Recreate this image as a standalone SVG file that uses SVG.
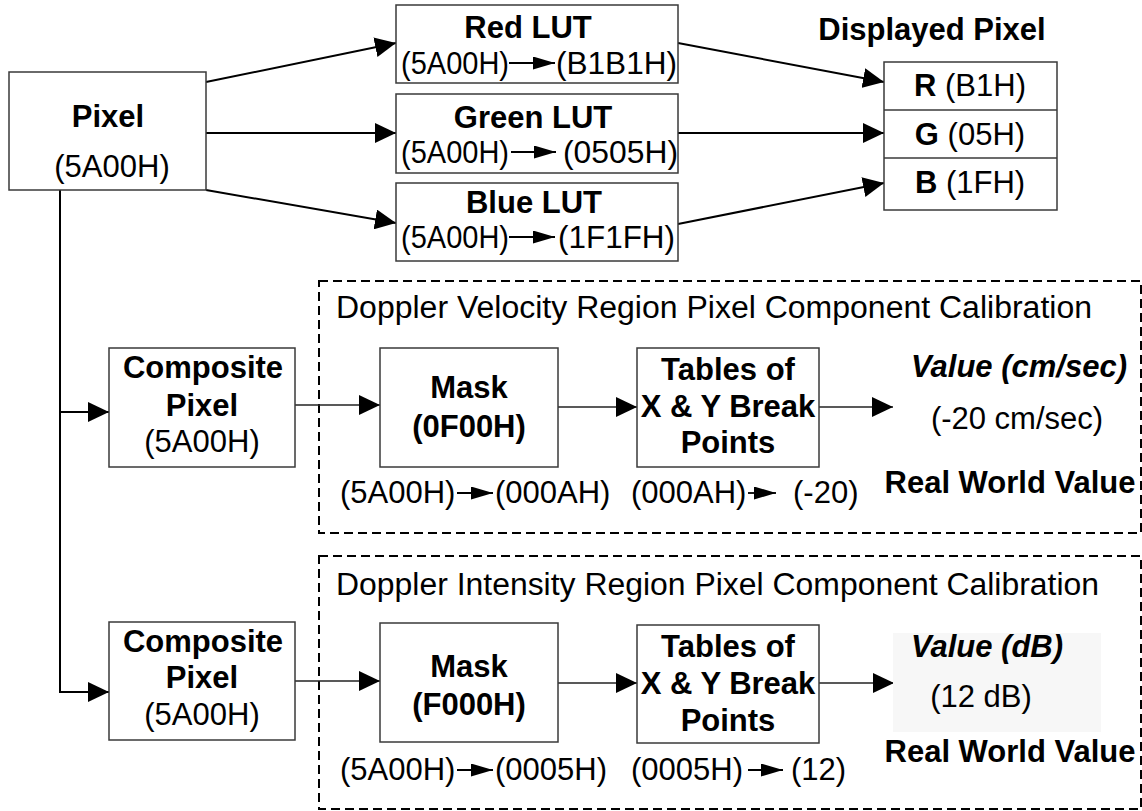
<svg xmlns="http://www.w3.org/2000/svg" width="1142" height="811" viewBox="0 0 1142 811">
<defs>
<style>
text{font-family:"Liberation Sans",Arial,sans-serif;font-size:31px;fill:#000}
.b{font-weight:bold}
.bi{font-weight:bold;font-style:italic}
.m{text-anchor:middle}
.box{fill:#fff;stroke:#3a3a3a;stroke-width:1.5}
.dash{fill:none;stroke:#000;stroke-width:2;stroke-dasharray:9 5}
.c{fill:none;stroke:#000;stroke-width:2}
.ct{fill:none;stroke:#222;stroke-width:1.4}
.ia{fill:none;stroke:#000;stroke-width:1.8}
</style>
<marker id="ah" markerUnits="userSpaceOnUse" markerWidth="21" markerHeight="20" refX="21" refY="10" orient="auto" viewBox="0 0 21 20"><path d="M0,0 L21,10 L0,20 z" fill="#000"/></marker>
<marker id="sa" markerUnits="userSpaceOnUse" markerWidth="22" markerHeight="13" refX="22" refY="6.5" orient="auto" viewBox="0 0 22 13"><path d="M0,0 L22,6.5 L0,13 z" fill="#000"/></marker>
</defs>

<g id="region-velocity">
<rect class="dash" x="319" y="281" width="822" height="252"/>
<text x="336" y="318" textLength="756" lengthAdjust="spacingAndGlyphs">Doppler Velocity Region Pixel Component Calibration</text>
</g>
<g id="region-intensity">
<rect class="dash" x="319" y="556" width="822" height="253"/>
<text x="336" y="595" textLength="763" lengthAdjust="spacingAndGlyphs">Doppler Intensity Region Pixel Component Calibration</text>
</g>

<g id="connectors">
<line class="c" x1="206" y1="82" x2="396" y2="43" marker-end="url(#ah)"/>
<line class="c" x1="206" y1="133" x2="396" y2="133" marker-end="url(#ah)"/>
<line class="c" x1="206" y1="190" x2="396" y2="223" marker-end="url(#ah)"/>
<line class="c" x1="678" y1="43" x2="884" y2="82" marker-end="url(#ah)"/>
<line class="c" x1="678" y1="133" x2="884" y2="133" marker-end="url(#ah)"/>
<line class="c" x1="678" y1="224" x2="884" y2="183" marker-end="url(#ah)"/>
<polyline class="c" points="60,190 60,692 109,692" marker-end="url(#ah)"/>
<line class="c" x1="60" y1="412" x2="109" y2="412" marker-end="url(#ah)"/>
<line class="ct" x1="295" y1="405" x2="380" y2="405" marker-end="url(#ah)"/>
<line class="ct" x1="558" y1="407" x2="637" y2="407" marker-end="url(#ah)"/>
<line class="ct" x1="819" y1="407" x2="893" y2="407" marker-end="url(#ah)"/>
<line class="ct" x1="295" y1="681" x2="380" y2="681" marker-end="url(#ah)"/>
<line class="ct" x1="558" y1="683" x2="637" y2="683" marker-end="url(#ah)"/>
<line class="ct" x1="819" y1="683" x2="894" y2="683" marker-end="url(#ah)"/>
</g>

<g id="pixel">
<rect class="box" x="9" y="72" width="197" height="118"/>
<text class="b m" x="108" y="127">Pixel</text>
<text class="m" x="112" y="177">(5A00H)</text>
</g>

<g id="red-lut">
<rect class="box" x="396" y="5" width="282" height="78"/>
<text class="b m" x="528" y="38">Red LUT</text>
<text x="401" y="74" textLength="108" lengthAdjust="spacingAndGlyphs">(5A00H)</text>
<line class="ia" x1="509" y1="63" x2="555" y2="63" marker-end="url(#sa)"/>
<text x="556" y="74" textLength="121" lengthAdjust="spacingAndGlyphs">(B1B1H)</text>
</g>

<g id="green-lut">
<rect class="box" x="396" y="94" width="282" height="79"/>
<text class="b m" x="533" y="128">Green LUT</text>
<text x="401" y="163" textLength="108" lengthAdjust="spacingAndGlyphs">(5A00H)</text>
<line class="ia" x1="511" y1="152" x2="556" y2="152" marker-end="url(#sa)"/>
<text x="563" y="163" textLength="115" lengthAdjust="spacingAndGlyphs">(0505H)</text>
</g>

<g id="blue-lut">
<rect class="box" x="396" y="183" width="282" height="78"/>
<text class="b m" x="534" y="213">Blue LUT</text>
<text x="401" y="248" textLength="108" lengthAdjust="spacingAndGlyphs">(5A00H)</text>
<line class="ia" x1="509" y1="237" x2="555" y2="237" marker-end="url(#sa)"/>
<text x="558" y="248" textLength="117" lengthAdjust="spacingAndGlyphs">(1F1FH)</text>
</g>

<g id="displayed-pixel">
<text class="b m" x="932" y="40">Displayed Pixel</text>
<rect class="box" x="884" y="62" width="173" height="148"/>
<line stroke="#3a3a3a" stroke-width="1.5" x1="884" y1="110" x2="1057" y2="110"/>
<line stroke="#3a3a3a" stroke-width="1.5" x1="884" y1="158" x2="1057" y2="158"/>
<text class="m" x="970" y="96"><tspan class="b">R</tspan> (B1H)</text>
<text class="m" x="970" y="145"><tspan class="b">G</tspan> (05H)</text>
<text class="m" x="970" y="193"><tspan class="b">B</tspan> (1FH)</text>
</g>

<g id="composite-pixel-1">
<rect class="box" x="109" y="348" width="186" height="119"/>
<text class="b m" x="203" y="378">Composite</text>
<text class="b m" x="202" y="416">Pixel</text>
<text class="m" x="202" y="452">(5A00H)</text>
</g>
<g id="mask-1">
<rect class="box" x="380" y="348" width="178" height="119"/>
<text class="b m" x="469" y="398">Mask</text>
<text class="b m" x="469" y="437">(0F00H)</text>
</g>
<g id="tables-1">
<rect class="box" x="637" y="348" width="182" height="119"/>
<text class="b m" x="728" y="380">Tables of</text>
<text class="b m" x="728" y="417">X &amp; Y Break</text>
<text class="b m" x="728" y="453">Points</text>
</g>
<g id="value-1">
<text class="bi m" x="1019" y="377">Value (cm/sec)</text>
<text class="m" x="1017" y="429">(-20 cm/sec)</text>
<text class="b m" x="1010" y="493">Real World Value</text>
</g>
<g id="mapping-1">
<text x="340" y="503">(5A00H)</text>
<line class="ia" x1="457" y1="493" x2="493" y2="493" marker-end="url(#sa)"/>
<text x="495" y="503">(000AH)</text>
<text x="631" y="503">(000AH)</text>
<line class="ia" x1="748" y1="493" x2="776" y2="493" marker-end="url(#sa)"/>
<text x="793" y="503">(-20)</text>
</g>

<g id="composite-pixel-2">
<rect class="box" x="109" y="622" width="186" height="118"/>
<text class="b m" x="203" y="652">Composite</text>
<text class="b m" x="202" y="688">Pixel</text>
<text class="m" x="202" y="725">(5A00H)</text>
</g>
<g id="mask-2">
<rect class="box" x="380" y="623" width="178" height="119"/>
<text class="b m" x="469" y="677">Mask</text>
<text class="b m" x="469" y="715">(F000H)</text>
</g>
<g id="tables-2">
<rect class="box" x="637" y="625" width="182" height="118"/>
<text class="b m" x="728" y="657">Tables of</text>
<text class="b m" x="728" y="694">X &amp; Y Break</text>
<text class="b m" x="728" y="731">Points</text>
</g>
<g id="value-2">
<rect x="893" y="633" width="208" height="99" fill="#f7f7f7"/>
<text class="bi m" x="987" y="657">Value (dB)</text>
<text class="m" x="981" y="707">(12 dB)</text>
<text class="b m" x="1010" y="762">Real World Value</text>
</g>
<g id="mapping-2">
<text x="340" y="780">(5A00H)</text>
<line class="ia" x1="457" y1="770" x2="493" y2="770" marker-end="url(#sa)"/>
<text x="495" y="780">(0005H)</text>
<text x="631" y="780">(0005H)</text>
<line class="ia" x1="748" y1="770" x2="783" y2="770" marker-end="url(#sa)"/>
<text x="791" y="780">(12)</text>
</g>
</svg>
